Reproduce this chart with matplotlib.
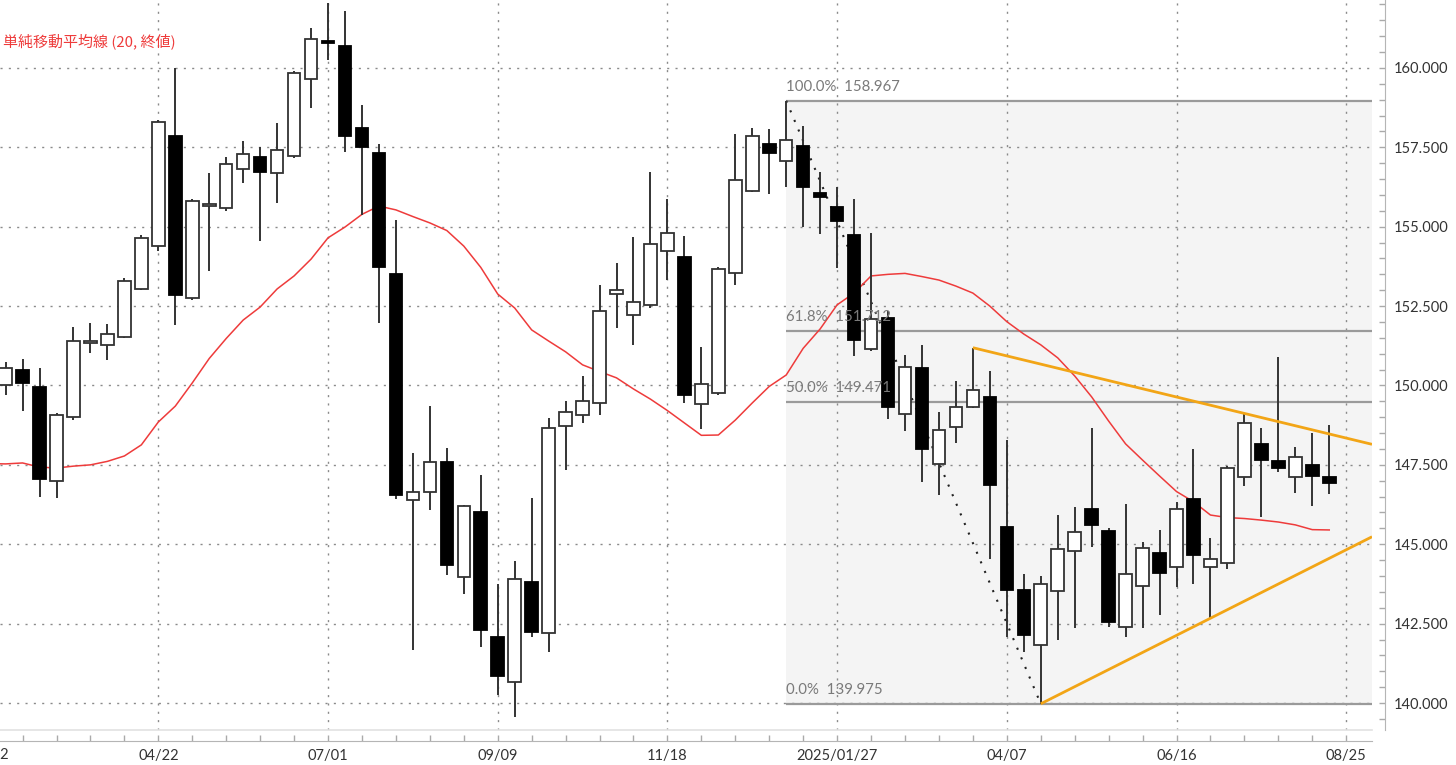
import matplotlib
matplotlib.use('Agg')
import matplotlib.pyplot as plt
from matplotlib.patches import Rectangle
from matplotlib.ticker import MultipleLocator, FixedLocator, FuncFormatter
import matplotlib.transforms as mtransforms

# ---------------- data (weekly candles) ----------------
week_index = list(range(-9, 70))   # 0 = 2024/04/22
opens = [150.02, 150.48, 149.96, 147.00, 149.02, 151.35, 151.26, 151.54, 153.03,
         154.40, 157.87, 152.75, 155.67, 155.58, 156.81, 157.18, 156.68, 157.24, 159.64,
         160.83, 160.70, 158.12, 157.33, 153.50, 146.39, 146.65, 147.60, 143.98, 146.03,
         142.07, 140.65, 143.80, 142.22, 148.72, 149.07, 149.46, 152.87, 152.22, 152.54,
         154.22, 154.06, 149.41, 149.75, 153.55, 156.14, 157.60, 157.07, 157.54, 156.05,
         155.61, 154.74, 151.15, 152.12, 149.10, 150.56, 147.52, 148.70, 149.31, 149.63,
         145.55, 143.56, 141.83, 143.54, 144.79, 146.10, 145.42, 142.38, 143.69, 144.74,
         144.27, 146.42, 144.27, 144.40, 147.13, 148.15, 147.62, 147.13, 147.50, 147.13]
highs = [150.74, 150.83, 150.56, 149.13, 151.85, 151.97, 151.94, 153.39, 154.74,
         158.36, 159.99, 155.87, 156.70, 157.21, 157.70, 157.52, 158.26, 159.89, 161.27,
         162.04, 161.80, 158.83, 157.61, 155.21, 147.86, 149.35, 148.02, 146.23, 147.18,
         143.74, 144.47, 146.46, 148.97, 149.52, 150.30, 153.17, 153.85, 154.69, 156.73,
         155.87, 154.71, 151.22, 153.74, 157.91, 158.10, 158.07, 158.967, 158.17, 156.73,
         156.26, 155.86, 154.79, 152.33, 150.96, 151.28, 149.17, 150.14, 151.19, 150.47,
         148.28, 144.06, 144.00, 145.92, 146.18, 148.65, 145.50, 146.27, 145.08, 145.45,
         146.34, 148.00, 145.19, 147.46, 149.12, 148.65, 150.91, 148.07, 148.51, 148.76]
lows = [149.70, 149.21, 146.48, 146.46, 148.91, 151.03, 150.80, 151.50, 153.00,
        154.25, 151.91, 152.70, 153.62, 155.51, 156.39, 154.56, 155.74, 157.16, 158.75,
        160.25, 157.36, 155.37, 151.96, 146.42, 141.67, 146.08, 144.03, 143.42, 141.77,
        140.25, 139.57, 142.07, 141.62, 147.34, 148.83, 149.07, 151.80, 151.28, 152.45,
        153.32, 149.46, 148.63, 149.70, 153.17, 156.10, 156.02, 156.24, 155.00, 154.76,
        153.69, 150.93, 151.10, 148.93, 148.57, 146.95, 146.55, 148.18, 149.28, 144.53,
        142.09, 141.62, 139.975, 141.98, 142.35, 144.92, 142.40, 142.09, 142.35, 142.77,
        143.64, 143.75, 142.67, 144.21, 146.84, 145.85, 147.28, 146.60, 146.20, 146.57]
closes = [150.55, 150.09, 147.06, 149.07, 151.41, 151.39, 151.62, 153.29, 154.63,
          158.29, 152.85, 155.81, 155.71, 156.97, 157.28, 156.73, 157.42, 159.83, 160.90,
          160.79, 157.87, 157.52, 153.74, 146.54, 146.65, 147.60, 144.35, 146.20, 142.30,
          140.86, 143.91, 142.25, 148.65, 149.15, 149.52, 152.33, 153.00, 152.64, 154.45,
          154.79, 149.70, 150.05, 153.66, 156.47, 157.87, 157.31, 157.73, 156.26, 155.95,
          155.18, 151.43, 152.08, 149.31, 150.57, 148.00, 148.60, 149.33, 149.86, 146.87,
          143.56, 142.14, 143.74, 144.84, 145.37, 145.60, 142.54, 144.06, 144.87, 144.11,
          146.10, 144.66, 144.53, 147.41, 148.83, 147.65, 147.39, 147.76, 147.16, 146.92]

# 20-period simple moving average as drawn (starts one week before first visible candle)
ma_index = list(range(-10, 70))
ma20 = [147.54, 147.53, 147.56, 147.43, 147.40, 147.46, 147.50, 147.61, 147.78, 148.13,
        148.85, 149.35, 150.08, 150.85, 151.48, 152.06, 152.47, 153.04, 153.45, 153.98,
        154.65, 154.99, 155.39, 155.65, 155.53, 155.32, 155.12, 154.88, 154.39, 153.72,
        152.88, 152.44, 151.75, 151.40, 151.06, 150.65, 150.44, 150.24, 149.89, 149.57,
        149.21, 148.82, 148.43, 148.44, 148.91, 149.45, 149.97, 150.33, 151.17, 151.78,
        152.54, 152.91, 153.45, 153.50, 153.53, 153.43, 153.32, 153.13, 152.91, 152.50,
        152.01, 151.62, 151.28, 150.87, 150.30, 149.64, 148.88, 148.16, 147.65, 147.15,
        146.66, 146.34, 145.92, 145.84, 145.81, 145.76, 145.70, 145.61, 145.46, 145.45]

tick_weeks = [-10, 0, 10, 20, 30, 40, 50, 60, 70]
tick_labels = ['02/12', '04/22', '07/01', '09/09', '11/18', '2025/01/27', '04/07', '06/16', '08/25']

fib_start_week = 37
fib_high = 158.967
fib_low = 139.975
fib_ratios = [1.0, 0.618, 0.5, 0.0]
fib_texts = ['100.0%', '61.8%', '50.0%', '0.0%']

upper_trend_weeks = [48, 64]   # connects highs
lower_trend_weeks = [52, 62]   # connects lows

ma_label = '単純移動平均線 (20, 終値)'

# ---------------- figure ----------------
W, H = 1456, 765
fig = plt.figure(figsize=(W / 100, H / 100), dpi=100)
plot_right = 1372
plot_bottom = 730
ax = fig.add_axes([0, 1 - plot_bottom / H, plot_right / W, plot_bottom / H])

xmin, xmax = -9.33, 71.52
ymin, ymax = 139.15, 162.14
ax.set_xlim(xmin, xmax)
ax.set_ylim(ymin, ymax)

FONT = 'Lato'
grid_kw = dict(color='#8a8a8a', linewidth=1.0, linestyle=(0, (1.5, 4.5)))

# fib shaded box
ax.add_patch(Rectangle((fib_start_week, fib_low), xmax - fib_start_week, fib_high - fib_low,
                       facecolor='#f4f4f4', edgecolor='none', zorder=0))

# grid
for v in [140 + 2.5 * k for k in range(9)]:
    ax.axhline(v, zorder=1, **grid_kw)
for w in tick_weeks:
    ax.axvline(w, zorder=1, **grid_kw)

# fib levels
rng = fib_high - fib_low
for r, t in zip(fib_ratios, fib_texts):
    lv = fib_low + r * rng
    ax.plot([fib_start_week, xmax], [lv, lv], color='#9a9a9a', lw=1.6, zorder=2,
            solid_capstyle='butt')
    ax.annotate(f'{t}  {lv:.3f}', xy=(fib_start_week, lv), xytext=(0, 5),
                textcoords='offset points', ha='left', va='bottom',
                fontsize=10.8, color='#7a7a7a', family=FONT, zorder=6)

# dotted diagonal of fib retracement
i0 = week_index.index(fib_start_week)
i1 = week_index.index(lower_trend_weeks[0])
ax.plot([fib_start_week, lower_trend_weeks[0]], [highs[i0], lows[i1]],
        color='#222222', lw=1.5, linestyle=(0, (1, 4)), zorder=3)

# moving average
ax.plot(ma_index, ma20, color='#ee3b3b', lw=1.1, zorder=3)

# candles
body_w = 0.74
min_h = 0.07
for w, o, h, l, c in zip(week_index, opens, highs, lows, closes):
    up = c >= o
    ax.plot([w, w], [l, h], color='#333333', lw=1.4, zorder=4, solid_capstyle='butt')
    lo_, hi_ = min(o, c), max(o, c)
    if hi_ - lo_ < min_h:
        mid = (hi_ + lo_) / 2
        lo_, hi_ = mid - min_h / 2, mid + min_h / 2
    ax.add_patch(Rectangle((w - body_w / 2, lo_), body_w, hi_ - lo_,
                           facecolor='white' if up else 'black',
                           edgecolor='#333333' if up else 'black', lw=1.3, zorder=5))

# trend lines
def trend(weeks, vals):
    (xa, xb), (ya, yb) = weeks, vals
    s = (yb - ya) / (xb - xa)
    return [xa, xmax], [ya, ya + s * (xmax - xa)]

ua = [highs[week_index.index(w)] for w in upper_trend_weeks]
la = [lows[week_index.index(w)] for w in lower_trend_weeks]
xs, ys = trend(upper_trend_weeks, ua)
ax.plot(xs, ys, color='#f2a516', lw=2.0, zorder=6, solid_capstyle='butt')
xs, ys = trend(lower_trend_weeks, la)
ax.plot(xs, ys, color='#f2a516', lw=2.0, zorder=6, solid_capstyle='butt')

# MA label
ax.text(3 / plot_right, 1 - 41 / plot_bottom, ma_label, transform=ax.transAxes,
        ha='left', va='center', fontsize=10.8, color='#ee3b3b',
        family=['Noto Sans CJK JP', 'DejaVu Sans'])

# axes styling
for s in ['top', 'left']:
    ax.spines[s].set_visible(False)
ax.spines['right'].set_position(('outward', 9))
ax.spines['right'].set_color('#b5b5b5')
ax.spines['bottom'].set_position(('outward', 8))
ax.spines['bottom'].set_color('#b5b5b5')
ax.plot([0, 1], [0, 0], transform=ax.transAxes, color='#e2e2e2', lw=1.2, clip_on=False)

ax.yaxis.tick_right()
ax.yaxis.set_major_locator(MultipleLocator(2.5))
ax.yaxis.set_minor_locator(MultipleLocator(0.5))
ax.yaxis.set_major_formatter(FuncFormatter(lambda v, p: f'{v:.3f}'))
ax.xaxis.set_major_locator(FixedLocator(tick_weeks))
ax.xaxis.set_minor_locator(FixedLocator(list(range(-8, 72, 2))))
ax.set_xticklabels(tick_labels)
ax.tick_params(axis='both', which='both', direction='in', length=4.5, width=1,
               color='#aaaaaa')
ax.tick_params(axis='y', which='both', pad=7, labelsize=10.5, labelcolor='#333333')
ax.tick_params(axis='x', which='both', pad=6, labelsize=10.5, labelcolor='#333333')
for lab in ax.get_xticklabels() + ax.get_yticklabels():
    lab.set_family(FONT)

# first date label lies left of the visible range and is cut by the figure edge
trans = mtransforms.blended_transform_factory(ax.transData, fig.transFigure)
fig.text(0, 0, '')
ax.text(tick_weeks[0], 1 - 755 / H, tick_labels[0], transform=trans, ha='center',
        va='center', fontsize=10.5, color='#333333', family=FONT, clip_on=False)

fig.savefig('out.png', dpi=100, facecolor='white')
